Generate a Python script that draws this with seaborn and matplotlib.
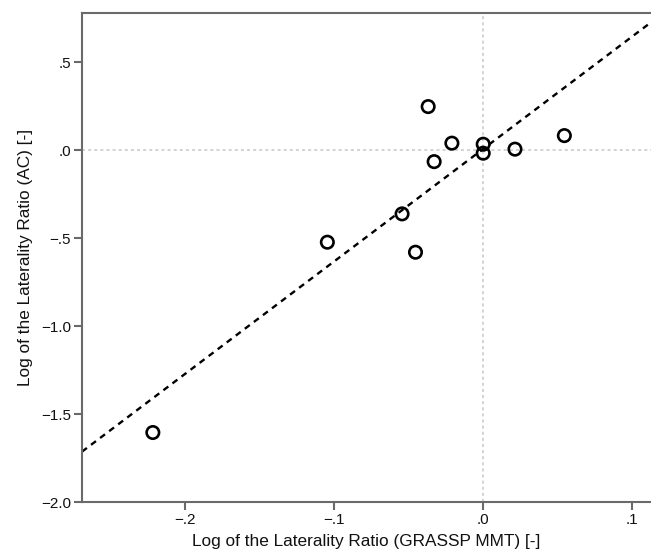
import matplotlib
matplotlib.use("Agg")
import matplotlib.pyplot as plt
import seaborn as sns
import numpy as np
import pandas as pd

# Data
x_vals = [-0.2215, -0.1045, -0.0544, -0.0454, -0.0369, -0.0329, -0.0210, 0.0000, 0.0000, 0.0213, 0.0544]
y_vals = [-1.605, -0.523, -0.362, -0.580, 0.248, -0.065, 0.040, 0.034, -0.017, 0.006, 0.083]

x_ticks = [-0.2, -0.1, 0.0, 0.1]
x_ticklabels = ["\u2212.2", "\u2212.1", ".0", ".1"]
y_ticks = [0.5, 0.0, -0.5, -1.0, -1.5, -2.0]
y_ticklabels = [".5", ".0", "\u2212.5", "\u22121.0", "\u22121.5", "\u22122.0"]

x_label = "Log of the Laterality Ratio (GRASSP MMT) [-]"
y_label = "Log of the Laterality Ratio (AC) [-]"

df = pd.DataFrame({"x": x_vals, "y": y_vals})

sns.set_style("white")
plt.rcParams['font.family'] = ['Liberation Sans', 'DejaVu Sans']

fig = plt.figure(figsize=(6.51, 5.57), dpi=100)
ax = fig.add_axes([82/651, 55/557, 1 - 82/651, (502-13)/557])

ax.set_xlim(-0.269, 0.1125)
ax.set_ylim(-2.0, 0.78)

# reference lines at zero
ax.axhline(0, color="#c8c8c8", lw=1.1, ls=(0, (2, 2)), zorder=0)
ax.axvline(0, color="#c8c8c8", lw=1.1, ls=(0, (2, 2)), zorder=0)

sns.regplot(data=df, x="x", y="y", ax=ax, ci=None, truncate=False,
            scatter_kws=dict(s=80, facecolors="none", edgecolors="black", linewidths=1.9,
                             alpha=1, zorder=3),
            line_kws=dict(color="black", lw=1.7, ls=(0, (2.6, 2.2)), zorder=2))

ax.set_xticks(x_ticks)
ax.set_xticklabels(x_ticklabels)
ax.set_yticks(y_ticks)
ax.set_yticklabels(y_ticklabels)

ax.set_xlabel(x_label, fontsize=12.4, color="#111111", labelpad=5)
ax.set_ylabel(y_label, fontsize=12.4, color="#111111", labelpad=6)

for side in ["left", "bottom", "top"]:
    ax.spines[side].set_visible(True)
    ax.spines[side].set_color("#6a6a6a")
    ax.spines[side].set_linewidth(1.5)
ax.spines["right"].set_visible(False)

ax.tick_params(axis="both", direction="out", length=6, width=1.5, color="#6a6a6a",
               labelsize=11, labelcolor="#111111", pad=2, bottom=True, left=True)

fig.savefig("out.png", dpi=100)
